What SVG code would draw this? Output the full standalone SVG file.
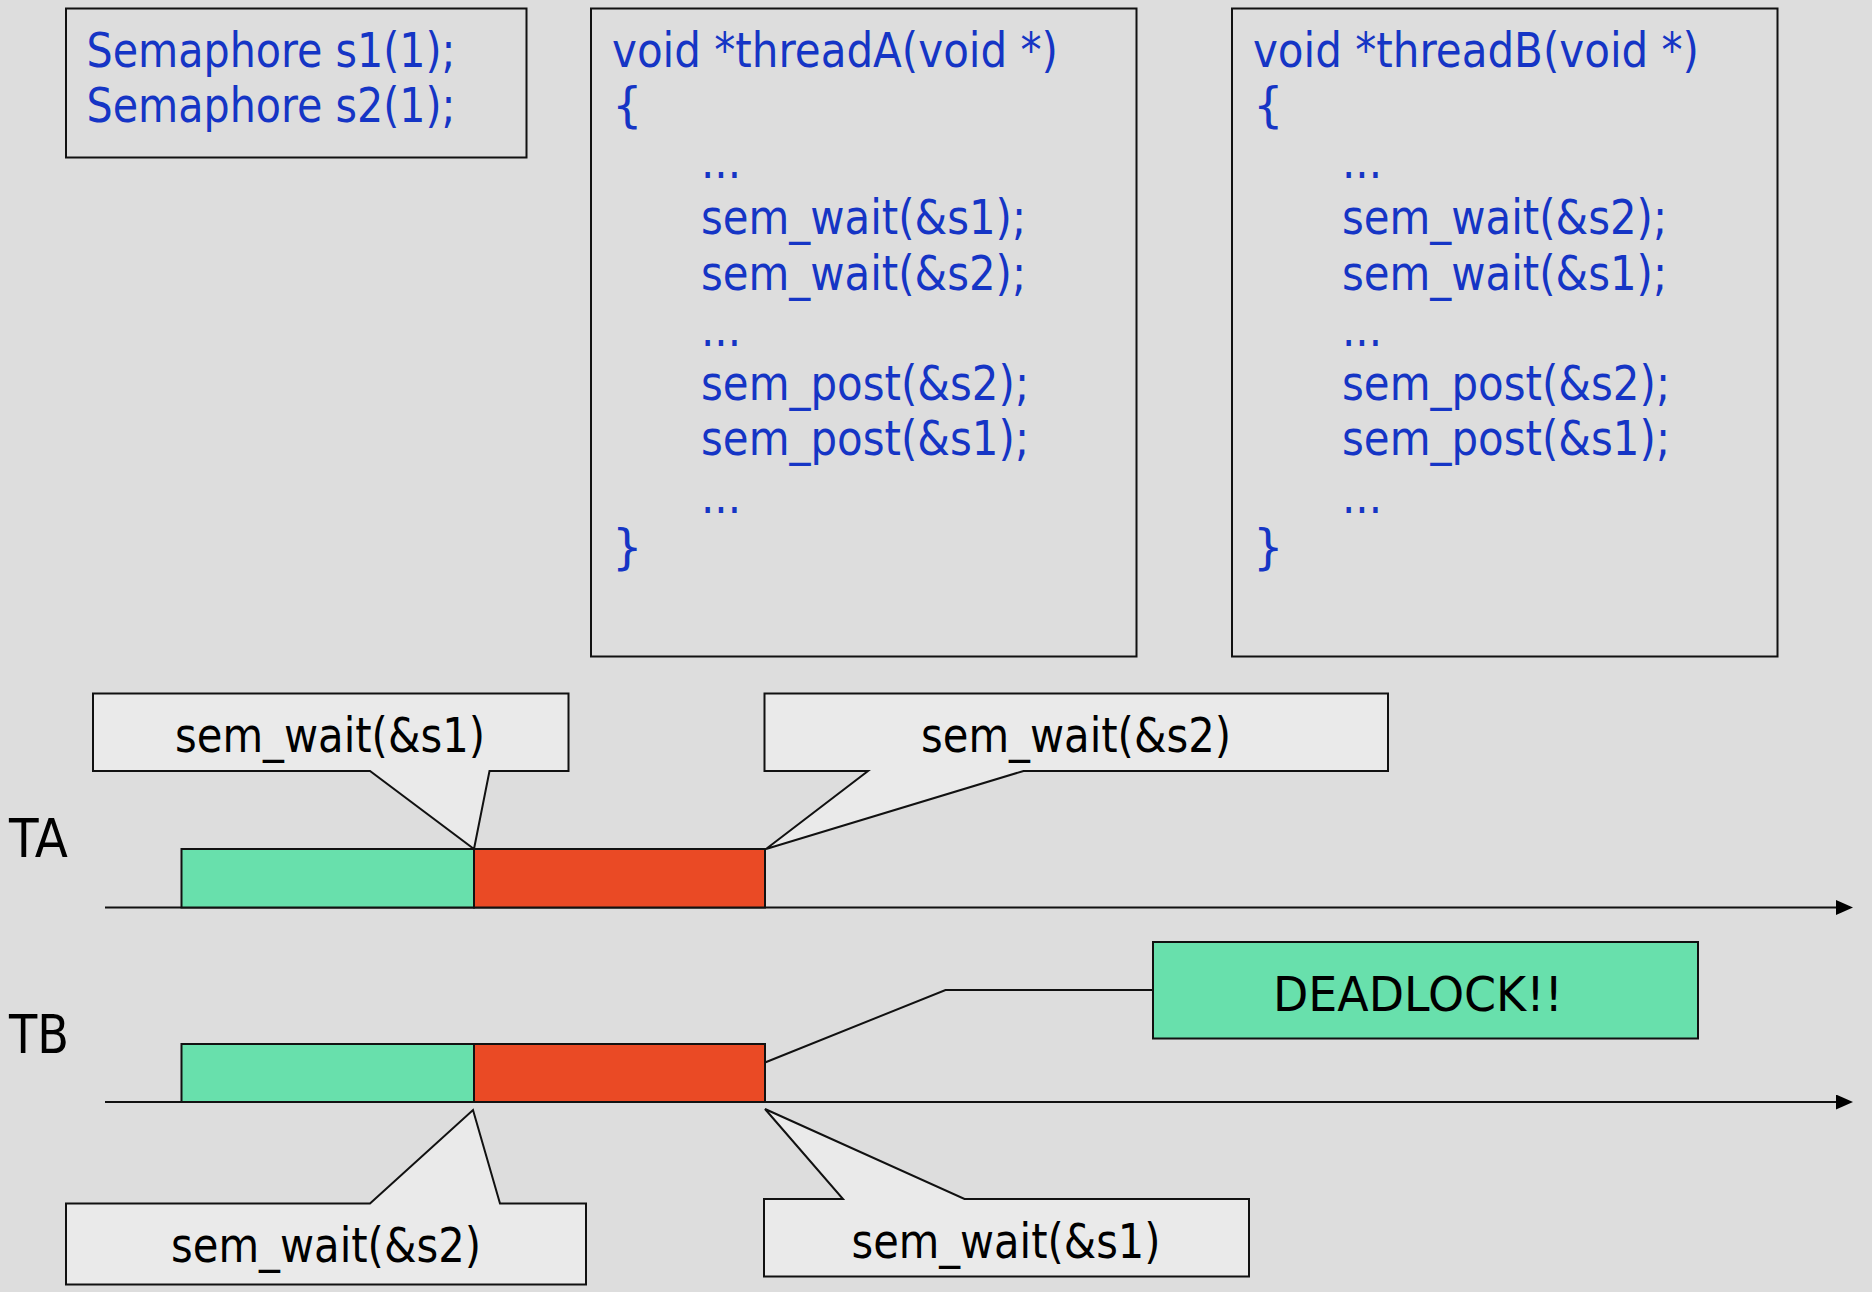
<svg xmlns="http://www.w3.org/2000/svg" width="1872" height="1292" viewBox="0 0 1872 1292">
<style>
.bg{fill:#dddddd}
.box{fill:none;stroke:#111;stroke-width:2}
.code{font-family:"DejaVu Sans","Liberation Sans",sans-serif;font-size:48px;fill:#1535c5}
.call{fill:#eaeaea;stroke:#111;stroke-width:2;stroke-linejoin:miter}
.lbl{font-family:"DejaVu Sans","Liberation Sans",sans-serif;font-size:48px;fill:#000;text-anchor:middle}
.big{font-family:"DejaVu Sans","Liberation Sans",sans-serif;font-size:53px;fill:#000}
.green{fill:#68e0ac;stroke:#111;stroke-width:2}
.red{fill:#ea4a25;stroke:#111;stroke-width:2}
.axis{stroke:#111;stroke-width:2;fill:none}
</style>
<defs>
<marker id="arr" markerUnits="userSpaceOnUse" markerWidth="18" markerHeight="16" refX="9" refY="7.5" orient="auto">
<path d="M0,0 L17,7.5 L0,15 Z" fill="#000"/>
</marker>
</defs>
<rect class="bg" x="0" y="0" width="1872" height="1292"/>

<g id="semaphores">
<rect class="box" x="66" y="8.5" width="460.5" height="149"/>
<text class="code" x="86.5" y="66.5" textLength="369" lengthAdjust="spacingAndGlyphs">Semaphore s1(1);</text>
<text class="code" x="86.5" y="121.5" textLength="369" lengthAdjust="spacingAndGlyphs">Semaphore s2(1);</text>
</g>

<g id="threadA">
<rect class="box" x="591" y="8.5" width="545.5" height="648"/>
<text class="code" x="612" y="66.5" textLength="446" lengthAdjust="spacingAndGlyphs">void *threadA(void *)</text>
<text class="code" x="612" y="122">{</text>
<text class="code" x="701" y="178" textLength="40" lengthAdjust="spacingAndGlyphs">...</text>
<text class="code" x="701" y="234" textLength="325" lengthAdjust="spacingAndGlyphs">sem_wait(&amp;s1);</text>
<text class="code" x="701" y="289.5" textLength="325" lengthAdjust="spacingAndGlyphs">sem_wait(&amp;s2);</text>
<text class="code" x="701" y="345.5" textLength="40" lengthAdjust="spacingAndGlyphs">...</text>
<text class="code" x="701" y="400" textLength="328" lengthAdjust="spacingAndGlyphs">sem_post(&amp;s2);</text>
<text class="code" x="701" y="455" textLength="328" lengthAdjust="spacingAndGlyphs">sem_post(&amp;s1);</text>
<text class="code" x="701" y="512.5" textLength="40" lengthAdjust="spacingAndGlyphs">...</text>
<text class="code" x="612" y="564">}</text>
</g>

<g id="threadB">
<rect class="box" x="1232" y="8.5" width="545.5" height="648"/>
<text class="code" x="1253" y="66.5" textLength="446" lengthAdjust="spacingAndGlyphs">void *threadB(void *)</text>
<text class="code" x="1253" y="122">{</text>
<text class="code" x="1342" y="178" textLength="40" lengthAdjust="spacingAndGlyphs">...</text>
<text class="code" x="1342" y="234" textLength="325" lengthAdjust="spacingAndGlyphs">sem_wait(&amp;s2);</text>
<text class="code" x="1342" y="289.5" textLength="325" lengthAdjust="spacingAndGlyphs">sem_wait(&amp;s1);</text>
<text class="code" x="1342" y="345.5" textLength="40" lengthAdjust="spacingAndGlyphs">...</text>
<text class="code" x="1342" y="400" textLength="328" lengthAdjust="spacingAndGlyphs">sem_post(&amp;s2);</text>
<text class="code" x="1342" y="455" textLength="328" lengthAdjust="spacingAndGlyphs">sem_post(&amp;s1);</text>
<text class="code" x="1342" y="512.5" textLength="40" lengthAdjust="spacingAndGlyphs">...</text>
<text class="code" x="1253" y="564">}</text>
</g>

<g id="connectors">
<line class="axis" x1="105" y1="907.5" x2="1845" y2="907.5" marker-end="url(#arr)"/>
<line class="axis" x1="105" y1="1102" x2="1845" y2="1102" marker-end="url(#arr)"/>
<polyline class="axis" points="1153,990 945.5,990 765,1062.5"/>
</g>

<g id="TA">
<text class="big" x="9" y="857" textLength="59" lengthAdjust="spacingAndGlyphs">TA</text>
<rect class="green" x="181.5" y="849" width="292.5" height="58.5"/>
<rect class="red" x="474" y="849" width="291" height="58.5"/>
</g>

<g id="TB">
<text class="big" x="9" y="1053" textLength="60" lengthAdjust="spacingAndGlyphs">TB</text>
<rect class="green" x="181.5" y="1044" width="292.5" height="58"/>
<rect class="red" x="474" y="1044" width="291" height="58"/>
</g>

<g id="callout-ta-wait-s1">
<path class="call" d="M93,693.5 H568.5 V771 H489.5 L474,849 L370,771 H93 Z"/>
<text class="lbl" x="330" y="751.5" textLength="310" lengthAdjust="spacingAndGlyphs">sem_wait(&amp;s1)</text>
</g>

<g id="callout-ta-wait-s2">
<path class="call" d="M764.5,693.5 H1388 V771 H1023.5 L766,849 L868,771 H764.5 Z"/>
<text class="lbl" x="1076" y="751.5" textLength="310" lengthAdjust="spacingAndGlyphs">sem_wait(&amp;s2)</text>
</g>

<g id="callout-tb-wait-s2">
<path class="call" d="M66,1203.5 H370 L473,1110 L500,1203.5 H586 V1284.5 H66 Z"/>
<text class="lbl" x="326" y="1262" textLength="310" lengthAdjust="spacingAndGlyphs">sem_wait(&amp;s2)</text>
</g>

<g id="callout-tb-wait-s1">
<path class="call" d="M764,1199 H843 L765,1109 L964.5,1199 H1249 V1276.5 H764 Z"/>
<text class="lbl" x="1006" y="1258" textLength="309" lengthAdjust="spacingAndGlyphs">sem_wait(&amp;s1)</text>
</g>

<g id="deadlock">
<rect class="green" x="1153" y="942" width="545" height="96.5"/>
<text class="lbl" x="1418" y="1011" font-size="53" textLength="290" lengthAdjust="spacingAndGlyphs">DEADLOCK!!</text>
</g>
</svg>
